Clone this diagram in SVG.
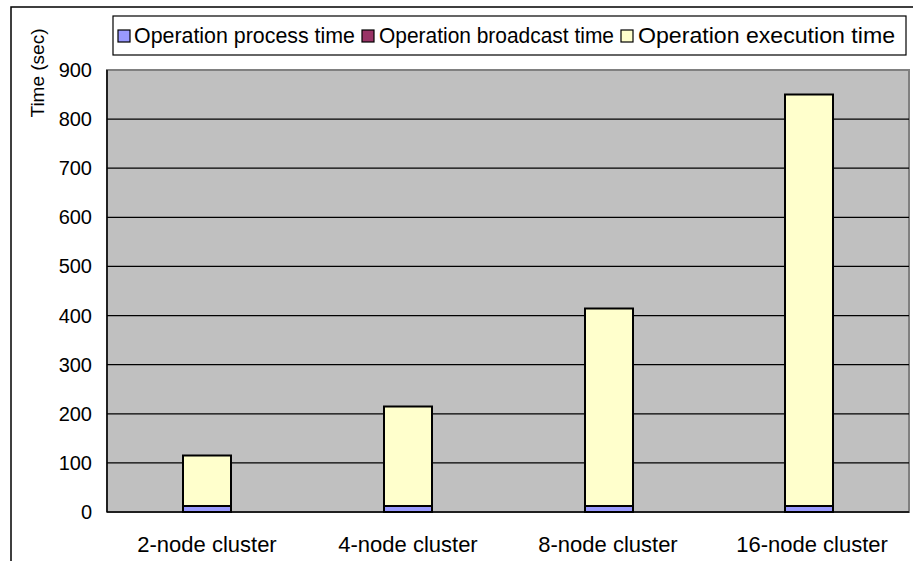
<svg xmlns="http://www.w3.org/2000/svg" width="913" height="561" viewBox="0 0 913 561">
<style>
text{font-family:"Liberation Sans",Arial,sans-serif;font-size:21.5px;fill:#000}
.grid{stroke:#000;stroke-width:1.3}
.ex{fill:#FFFFCC;stroke:#000;stroke-width:2}
.pr{fill:#9999FF;stroke:#000;stroke-width:2}
.yl{text-anchor:end;font-size:20px}
.xl{text-anchor:middle;font-size:22px}
.ttl{text-anchor:middle;font-size:19px}
.ico{stroke:#000;stroke-width:1.2}
</style>
<rect x="0" y="0" width="913" height="561" fill="#fff"/>
<rect x="11" y="7" width="910" height="560" fill="#fff" stroke="#000" stroke-width="1.5"/>
<g id="plot">
<rect x="107" y="70" width="802" height="442" fill="#C0C0C0" stroke="#808080" stroke-width="2"/>
<line x1="107" y1="70" x2="107" y2="512" stroke="#000" stroke-width="1.5"/>
<line x1="107" y1="512" x2="909" y2="512" stroke="#000" stroke-width="1.5"/>
</g>
<g id="gridlines">
<line class="grid" x1="107" y1="119.1" x2="909" y2="119.1"/>
<line class="grid" x1="107" y1="168.2" x2="909" y2="168.2"/>
<line class="grid" x1="107" y1="217.3" x2="909" y2="217.3"/>
<line class="grid" x1="107" y1="266.4" x2="909" y2="266.4"/>
<line class="grid" x1="107" y1="315.6" x2="909" y2="315.6"/>
<line class="grid" x1="107" y1="364.7" x2="909" y2="364.7"/>
<line class="grid" x1="107" y1="413.8" x2="909" y2="413.8"/>
<line class="grid" x1="107" y1="462.9" x2="909" y2="462.9"/>
</g>
<g id="yaxis">
<text class="yl" x="92" y="77">900</text>
<text class="yl" x="92" y="126">800</text>
<text class="yl" x="92" y="175">700</text>
<text class="yl" x="92" y="224">600</text>
<text class="yl" x="92" y="273">500</text>
<text class="yl" x="92" y="323">400</text>
<text class="yl" x="92" y="372">300</text>
<text class="yl" x="92" y="421">200</text>
<text class="yl" x="92" y="470">100</text>
<text class="yl" x="92" y="519">0</text>
<text class="ttl" transform="translate(44,73) rotate(-90)">Time (sec)</text>
</g>
<g id="bar-2node">
<rect class="ex" x="183" y="455.5" width="48" height="50.5"/>
<rect class="pr" x="183" y="506" width="48" height="6"/>
</g>
<g id="bar-4node">
<rect class="ex" x="384" y="406.5" width="48" height="99.5"/>
<rect class="pr" x="384" y="506" width="48" height="6"/>
</g>
<g id="bar-8node">
<rect class="ex" x="585" y="308.5" width="48" height="197.5"/>
<rect class="pr" x="585" y="506" width="48" height="6"/>
</g>
<g id="bar-16node">
<rect class="ex" x="785" y="94.5" width="48" height="411.5"/>
<rect class="pr" x="785" y="506" width="48" height="6"/>
</g>
<g id="xaxis">
<text class="xl" x="207" y="552">2-node cluster</text>
<text class="xl" x="408" y="552">4-node cluster</text>
<text class="xl" x="608" y="552">8-node cluster</text>
<text class="xl" x="812" y="552">16-node cluster</text>
</g>
<g id="legend">
<rect x="113" y="16" width="793" height="39" fill="#fff" stroke="#000" stroke-width="1.2"/>
<rect class="ico" x="118" y="30" width="12" height="12" fill="#9999FF"/>
<text x="134" y="43" textLength="221" lengthAdjust="spacingAndGlyphs">Operation process time</text>
<rect class="ico" x="362" y="30" width="12" height="12" fill="#993366"/>
<text x="379" y="43" textLength="235" lengthAdjust="spacingAndGlyphs">Operation broadcast time</text>
<rect class="ico" x="621" y="30" width="12" height="12" fill="#FFFFCC"/>
<text x="638" y="43" textLength="257" lengthAdjust="spacingAndGlyphs">Operation execution time</text>
</g>
</svg>
